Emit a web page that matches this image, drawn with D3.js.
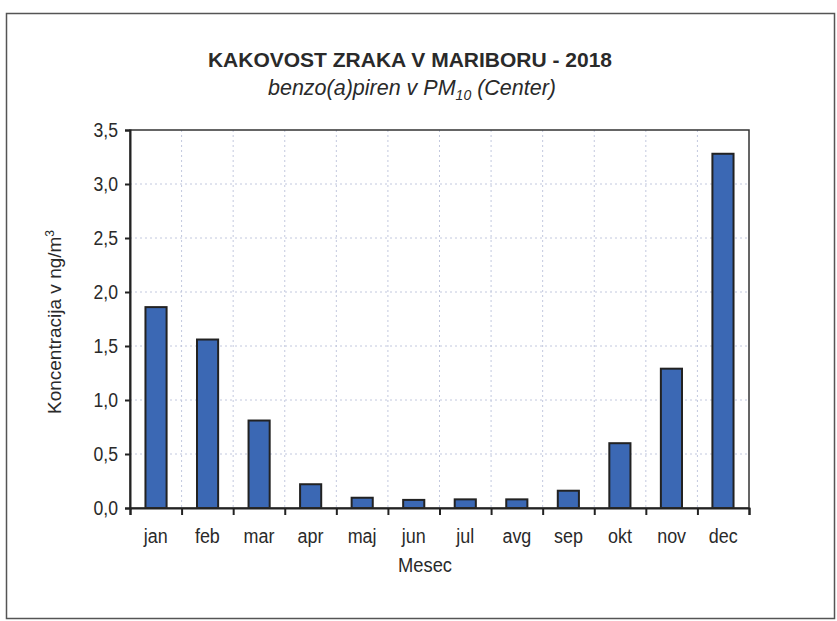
<!DOCTYPE html>
<html lang="sl">
<head>
<meta charset="UTF-8">
<title>Kakovost zraka v Mariboru - 2018</title>
<script src="https://d3js.org/d3.v7.min.js"></script>
<style>
  body { margin: 0; background: #fff; }
  text { font-family: "Liberation Sans", Arial, sans-serif; fill: #2a2a2a; }
  .grid line { stroke: #c2c8de; stroke-dasharray: 2,3; stroke-width: 1; }
  .axis path, .axis line { stroke: #222; stroke-width: 2; }
</style>
</head>
<body>
<script>
  var months = ["jan", "feb", "mar", "apr", "maj", "jun", "jul", "avg", "sep", "okt", "nov", "dec"];
  var values = [1.86, 1.56, 0.81, 0.22, 0.095, 0.075, 0.08, 0.08, 0.16, 0.6, 1.29, 3.28];
  var yTicks = [0, 0.5, 1.0, 1.5, 2.0, 2.5, 3.0, 3.5];

  var width = 837, height = 621;
  var m = { left: 130, right: 88, top: 130, bottom: 113 };

  // squeeze text a little, the original uses a narrow face
  function narrow(sel, k) {
    sel.each(function() {
      var w = this.getComputedTextLength();
      d3.select(this).attr("textLength", w * k).attr("lengthAdjust", "spacingAndGlyphs");
    });
  }

  var svg = d3.select("body").append("svg")
      .attr("width", width)
      .attr("height", height);

  // outer frame
  svg.append("rect")
      .attr("x", 6.5).attr("y", 13.5)
      .attr("width", 828).attr("height", 605)
      .attr("fill", "none")
      .attr("stroke", "#555")
      .attr("stroke-width", 1.5);

  var x = d3.scaleBand()
      .domain(months)
      .range([m.left, width - m.right])
      .paddingInner(0.59)
      .paddingOuter(0.3);

  var y = d3.scaleLinear()
      .domain([0, 3.5])
      .range([height - m.bottom, m.top]);

  var x0 = m.left, x1 = width - m.right;
  var xTickScale = d3.scaleLinear().domain([0, months.length]).range([x0, x1]);

  // grid
  var grid = svg.append("g").attr("class", "grid");
  grid.selectAll(".h").data(yTicks.slice(1, -1)).enter().append("line")
      .attr("x1", x0).attr("x2", x1)
      .attr("y1", function(d) { return y(d); })
      .attr("y2", function(d) { return y(d); });
  grid.selectAll(".v").data(d3.range(1, months.length)).enter().append("line")
      .attr("x1", function(d) { return xTickScale(d); }).attr("x2", function(d) { return xTickScale(d); })
      .attr("y1", y(3.5)).attr("y2", y(0));

  // bars
  svg.selectAll(".bar").data(values).enter().append("rect")
      .attr("x", function(d, i) { return x(months[i]); })
      .attr("y", function(d) { return y(d); })
      .attr("width", x.bandwidth())
      .attr("height", function(d) { return y(0) - y(d); })
      .attr("fill", "#3b68b4")
      .attr("stroke", "#222")
      .attr("stroke-width", 2);

  // plot frame
  svg.append("rect")
      .attr("x", x0).attr("y", y(3.5))
      .attr("width", x1 - x0).attr("height", y(0) - y(3.5))
      .attr("fill", "none")
      .attr("stroke", "#333")
      .attr("stroke-width", 1.5);

  // y axis
  var yAxis = svg.append("g").attr("class", "axis")
      .attr("transform", "translate(" + x0 + ",0)")
      .call(d3.axisLeft(y).tickValues(yTicks).tickSize(5).tickPadding(7)
        .tickFormat(function(d) { return d3.format(".1f")(d).replace(".", ","); }));
  yAxis.selectAll("text").style("font-size", "20px").style("fill", "#2a2a2a").call(narrow, 0.88);

  // x axis, ticks sit between the months
  svg.append("g").attr("class", "axis")
      .attr("transform", "translate(0," + y(0) + ")")
      .call(d3.axisBottom(xTickScale).tickValues(d3.range(0, months.length + 1)).tickSize(7).tickFormat(""));

  svg.append("g").selectAll("text").data(months).enter().append("text")
      .attr("x", function(d, i) { return xTickScale(i + 0.5); })
      .attr("y", 543)
      .attr("text-anchor", "middle")
      .style("font-size", "19.5px")
      .text(function(d) { return d; })
      .call(narrow, 0.92);

  // axis titles
  svg.append("text")
      .attr("x", 425).attr("y", 572)
      .attr("text-anchor", "middle")
      .style("font-size", "19.5px")
      .text("Mesec")
      .call(narrow, 0.94);

  var yl = svg.append("text")
      .attr("transform", "translate(61,322) rotate(-90)")
      .attr("text-anchor", "middle")
      .style("font-size", "19px");
  yl.append("tspan").text("Koncentracija v ng/m");
  yl.append("tspan").attr("dy", -7).style("font-size", "12px").text("3");

  // titles
  svg.append("text")
      .attr("x", 410).attr("y", 67)
      .attr("text-anchor", "middle")
      .style("font-size", "21px")
      .style("font-weight", "bold")
      .text("KAKOVOST ZRAKA V MARIBORU - 2018");

  var sub = svg.append("text")
      .attr("x", 412).attr("y", 95)
      .attr("text-anchor", "middle")
      .style("font-size", "21.5px")
      .style("font-style", "italic");
  sub.append("tspan").text("benzo(a)piren v PM");
  sub.append("tspan").attr("dy", 5).style("font-size", "14px").text("10");
  sub.append("tspan").attr("dy", -5).text(" (Center)");
</script>
</body>
</html>
